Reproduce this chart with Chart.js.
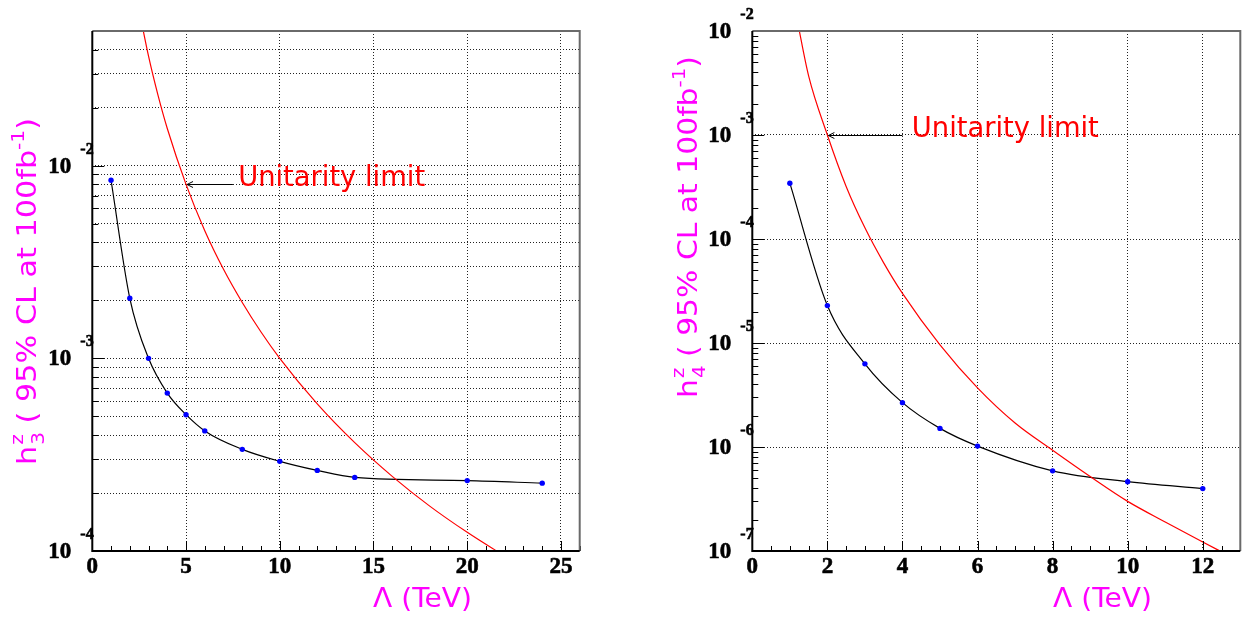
<!DOCTYPE html>
<html><head><meta charset="utf-8">
<script src="https://cdn.jsdelivr.net/npm/chart.js@4.4.1/dist/chart.umd.min.js"></script>
<style>
html,body{margin:0;padding:0;background:#fff;overflow:hidden}
#wrap{position:relative;width:1248px;height:620px;background:#fff}
canvas{position:absolute;top:0}
#c1{left:0}#c2{left:624px}
</style></head>
<body><div id="wrap"><canvas id="c1" width="624" height="620"></canvas><canvas id="c2" width="624" height="620"></canvas></div>
<script>
// ---------- Left panel : h3^Z limit ----------
const lambda3 = [1, 2, 3, 4, 5, 6, 8, 10, 12, 14, 20, 24];
const h3Limit = [8.4e-3, 2.05e-3, 1.0e-3, 6.6e-4, 5.1e-4, 4.2e-4, 3.37e-4, 2.92e-4, 2.62e-4, 2.41e-4, 2.32e-4, 2.25e-4];
const unit3Lambda = [2.5, 3, 3.5, 4, 5, 6, 7, 8, 9, 10, 12, 14, 16, 18, 20, 22];
const unit3Value = [0.064, 0.037, 0.0233, 0.0156, 0.008, 0.0046, 0.0029, 0.00195, 0.00137, 0.001, 0.00058, 0.000365, 0.000244, 0.000171, 0.000125, 0.000094];
const xLabels3 = [0, 5, 10, 15, 20, 25];
const yDecades3 = [-4, -3, -2];
const arrow3 = [5, 7.5, 7.78, 0.008];        // tip x, tail x, text x, y value

// ---------- Right panel : h4^Z limit ----------
const lambda4 = [1, 2, 3, 4, 5, 6, 8, 10, 12];
const h4Limit = [3.44e-4, 2.29e-5, 6.3e-6, 2.67e-6, 1.51e-6, 1.02e-6, 5.9e-7, 4.64e-7, 3.98e-7];
const unit4Lambda = [1.2, 1.5, 2, 2.5, 3, 3.5, 4, 5, 6, 7, 8, 9, 10, 11, 12, 12.6];
const unit4Value = [0.0125, 0.0037, 0.001, 0.00032, 0.000128, 5.9e-5, 3.0e-5, 9.6e-6, 3.7e-6, 1.7e-6, 9.3e-7, 5.2e-7, 3.0e-7, 1.9e-7, 1.22e-7, 9.4e-8];
const xLabels4 = [0, 2, 4, 6, 8, 10, 12];
const yDecades4 = [-7, -6, -5, -4, -3, -2];
const arrow4 = [2, 4, 4.25, 0.001];

const xTitle = 'Λ (TeV)';
const annotText = 'Unitarity limit';

const MAG = '#ff00ff';
const SANS = '"DejaVu Sans", "Liberation Sans", sans-serif';
const SERIF = '"Liberation Serif", "DejaVu Serif", serif';
const TRANSPARENT = 'rgba(0,0,0,0)';

function logTicks(decades, maxV) {
  const out = [];
  for (let i = 0; i < decades.length; i++) {
    for (let m = 1; m <= 9; m++) {
      const v = m * Math.pow(10, decades[i]);
      if (v <= maxV * 1.0001) out.push(v);
    }
  }
  return out;
}
const near = (a, b) => Math.abs(a - b) <= Math.abs(b) * 1e-6;
const isDecade = v => near(v, Math.pow(10, Math.round(Math.log10(v))));

function drawFit(ctx, text, x, y, font, width) {
  ctx.save();
  ctx.font = font;
  const w = ctx.measureText(text).width;
  ctx.translate(x, y);
  ctx.scale(width / w, 1);
  ctx.fillText(text, 0, 0);
  ctx.restore();
}
function boldText(ctx, text, x, y) {
  ctx.fillText(text, x, y);
  ctx.lineWidth = 0.6;
  ctx.strokeStyle = ctx.fillStyle;
  ctx.strokeText(text, x, y);
}

function makeChart(id, cfg) {
  const yMin = Math.pow(10, cfg.yDecades[0]);
  const yMax = cfg.yMax;
  const yTickVals = logTicks(cfg.yDecades, yMax);
  const xTickVals = [];
  for (let v = 0; v <= cfg.xMax + 1e-9; v += cfg.xStep) xTickVals.push(Math.round(v * 100) / 100);

  const decor = {
    id: 'decor',
    afterDraw(chart) {
      const ctx = chart.ctx;
      const a = chart.chartArea;
      const xs = chart.scales.x, ys = chart.scales.y;
      ctx.save();
      // inside ticks on x axis
      ctx.strokeStyle = '#000'; ctx.lineWidth = 1;
      xTickVals.forEach(v => {
        const px = Math.round(xs.getPixelForValue(v)) + 0.5;
        const major = Math.abs(v / cfg.xMajor - Math.round(v / cfg.xMajor)) < 1e-6;
        const len = major ? 10 : 5;
        ctx.beginPath(); ctx.moveTo(px, a.bottom); ctx.lineTo(px, a.bottom - len); ctx.stroke();
      });
      // inside ticks on y axis
      yTickVals.forEach(v => {
        const py = Math.round(ys.getPixelForValue(v)) + 0.5;
        const len = isDecade(v) ? 12 : 6;
        ctx.beginPath(); ctx.moveTo(a.left, py); ctx.lineTo(a.left + len, py); ctx.stroke();
      });
      // frame
      ctx.lineWidth = 2;
      ctx.strokeStyle = '#6a6a6a';
      ctx.beginPath(); ctx.moveTo(a.left, a.top); ctx.lineTo(a.right, a.top); ctx.lineTo(a.right, a.bottom); ctx.stroke();
      ctx.strokeStyle = '#000';
      ctx.beginPath(); ctx.moveTo(a.left, a.top); ctx.lineTo(a.left, a.bottom); ctx.lineTo(a.right, a.bottom); ctx.stroke();

      // x tick labels
      ctx.fillStyle = '#000';
      ctx.font = 'bold 23px ' + SERIF;
      ctx.textAlign = 'center'; ctx.textBaseline = 'middle';
      cfg.xLabels.forEach(v => {
        boldText(ctx, String(v), xs.getPixelForValue(v), 567);
      });
      // y labels 10^n
      cfg.yDecades.forEach(d => {
        const py = ys.getPixelForValue(Math.pow(10, d));
        ctx.font = 'bold 23px ' + SERIF;
        ctx.textAlign = 'right'; ctx.textBaseline = 'middle';
        boldText(ctx, '10', a.left - 21, py + 1);
        ctx.font = 'bold 16px ' + SERIF;
        ctx.textAlign = 'left';
        boldText(ctx, String(d), a.left - 12, py - 16);
      });

      // x title
      ctx.fillStyle = MAG;
      ctx.textAlign = 'left'; ctx.textBaseline = 'alphabetic';
      drawFit(ctx, xTitle, cfg.xTitleLeft, 607, '27px ' + SANS, 99);

      // y title (rotated)
      ctx.save();
      ctx.translate(cfg.yTitleX, cfg.yTitleBottom);
      ctx.rotate(-Math.PI / 2);
      const big = '27px ' + SANS, small = '18px ' + SANS;
      ctx.font = big; const wh = ctx.measureText('h').width;
      ctx.font = small; const wz = Math.max(ctx.measureText('z').width, ctx.measureText(cfg.sub).width);
      const main = ' ( 95% CL at 100fb';
      ctx.font = big; const wm = ctx.measureText(main).width; const wc = ctx.measureText(')').width;
      ctx.font = small; const ws = ctx.measureText('-1').width;
      const total = wh + wz + wm + ws + wc;
      ctx.scale(cfg.yTitleLen / total, 1);
      ctx.textAlign = 'left'; ctx.textBaseline = 'alphabetic';
      let x = 0;
      ctx.font = big; ctx.fillText('h', x, 0); x += wh;
      ctx.font = small; ctx.fillText('z', x + 1, -13); ctx.fillText(cfg.sub, x + 1, 8); x += wz;
      ctx.font = big; ctx.fillText(main, x, 0); x += wm;
      ctx.font = small; ctx.fillText('-1', x, -12); x += ws;
      ctx.font = big; ctx.fillText(')', x, 0);
      ctx.restore();

      // unitarity annotation
      const ar = cfg.arrow;
      const ay = Math.round(ys.getPixelForValue(ar[3])) + 0.5;
      const tipX = xs.getPixelForValue(ar[0]) + 1, tailX = xs.getPixelForValue(ar[1]);
      ctx.strokeStyle = '#000'; ctx.lineWidth = 1;
      ctx.beginPath(); ctx.moveTo(tailX, ay); ctx.lineTo(tipX, ay); ctx.stroke();
      ctx.beginPath(); ctx.moveTo(tipX + 6, ay - 3); ctx.lineTo(tipX, ay); ctx.lineTo(tipX + 6, ay + 3); ctx.stroke();
      ctx.fillStyle = '#ff0000';
      ctx.textAlign = 'left'; ctx.textBaseline = 'alphabetic';
      drawFit(ctx, annotText, xs.getPixelForValue(ar[2]), ay + 1, '29px ' + SANS, 187);
      ctx.restore();
    }
  };

  return new Chart(document.getElementById(id), {
    type: 'line',
    data: {
      datasets: [
        {
          data: cfg.unitX.map((v, i) => ({ x: v, y: cfg.unitY[i] })),
          borderColor: '#ff0000', borderWidth: 1.2, pointRadius: 0,
          cubicInterpolationMode: 'monotone', fill: false
        },
        {
          data: cfg.px.map((v, i) => ({ x: v, y: cfg.py[i] })),
          borderColor: '#000', borderWidth: 1.2,
          pointRadius: 2.7, pointBackgroundColor: '#0000ff', pointBorderWidth: 0,
          cubicInterpolationMode: 'monotone', fill: false
        }
      ]
    },
    options: {
      responsive: false, animation: false, devicePixelRatio: 1, events: [],
      layout: { padding: { top: 31, right: cfg.padRight, left: 0, bottom: 0 } },
      plugins: { legend: { display: false }, tooltip: { enabled: false } },
      scales: {
        x: {
          type: 'linear', min: 0, max: cfg.xMax,
          afterBuildTicks: s => { s.ticks = xTickVals.map(v => ({ value: v })); },
          afterFit: s => { s.height = 69; },
          ticks: { display: false },
          grid: {
            drawTicks: false, lineWidth: 1,
            color: c => (c.tick && cfg.xGrid(c.tick.value)) ? '#222' : TRANSPARENT
          },
          border: { display: false, dash: [1, 2] }
        },
        y: {
          type: 'logarithmic', min: yMin, max: yMax,
          afterBuildTicks: s => { s.ticks = yTickVals.map(v => ({ value: v })); },
          afterFit: s => { s.width = cfg.yWidth; },
          ticks: { display: false },
          grid: {
            drawTicks: false, lineWidth: 1,
            color: c => (c.tick && cfg.yGrid(c.tick.value, yMin, yMax)) ? '#222' : TRANSPARENT
          },
          border: { display: false, dash: [1, 2] }
        }
      }
    },
    plugins: [decor]
  });
}

makeChart('c1', {
  px: lambda3, py: h3Limit, unitX: unit3Lambda, unitY: unit3Value,
  xMax: 26, xStep: 1, xMajor: 5, xLabels: xLabels3,
  xGrid: v => v > 0 && v < 26 && v % 5 === 0,
  yDecades: yDecades3, yMax: 0.05,
  yGrid: (v, lo, hi) => !near(v, lo) && !near(v, hi),
  yWidth: 92.3, padRight: 44.3,
  xTitleLeft: 373, yTitleX: 36, yTitleBottom: 465, yTitleLen: 347, sub: '3',
  arrow: arrow3
});

makeChart('c2', {
  px: lambda4, py: h4Limit, unitX: unit4Lambda, unitY: unit4Value,
  xMax: 13, xStep: 0.5, xMajor: 2, xLabels: xLabels4,
  xGrid: v => v > 0 && v < 13 && v % 2 === 0,
  yDecades: yDecades4, yMax: 0.01,
  yGrid: (v, lo, hi) => isDecade(v) && !near(v, lo) && !near(v, hi),
  yWidth: 128.3, padRight: 7.7,
  xTitleLeft: 1053 - 624, yTitleX: 697 - 624, yTitleBottom: 398, yTitleLen: 342, sub: '4',
  arrow: arrow4
});
</script>
</body></html>
